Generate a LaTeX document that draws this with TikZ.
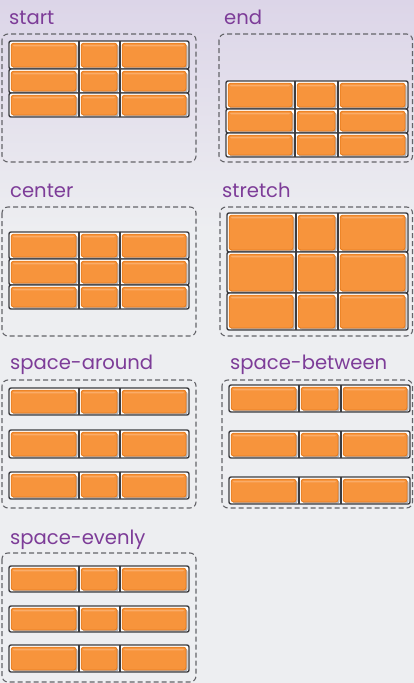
\documentclass[tikz,border=0pt]{standalone}
\usepackage{fontspec}
\setsansfont{Poppins}
\definecolor{bgtop}{RGB}{220,213,232}
\definecolor{bgbot}{RGB}{237,238,241}
\definecolor{ttl}{RGB}{125,60,152}
\definecolor{org}{RGB}{247,148,60}
\definecolor{orgd}{RGB}{232,125,30}
\definecolor{orgl}{RGB}{250,172,105}
\definecolor{gridc}{RGB}{60,60,64}
\definecolor{dashc}{RGB}{100,100,105}
\definecolor{shd}{RGB}{178,178,184}
\tikzset{
 container/.style={draw=dashc, line width=1.1pt, dash pattern=on 5pt off 3pt, rounded corners=6pt},
 title/.style={anchor=base west, inner sep=0pt, text=ttl, font=\sffamily\fontsize{19.6}{19.6}\selectfont},
 gridline/.style={draw=gridc, line width=1.4pt},
 item/.style={fill=org, draw=orgd, line width=0.9pt, rounded corners=2.5pt},
 itemshadow/.style={fill=shd, rounded corners=2.5pt},
 itemlight/.style={fill=orgl, rounded corners=1.2pt},
}
\newcommand\flexcell[4]{%
  \path[itemshadow] (#1+3.4,#3+3.4) rectangle (#2-1.4,#4-0.5);
  \path[item] (#1+2.2,#3+2.2) rectangle (#2-3,#4-2);
  \path[itemlight] (#1+4,#3+3.8) rectangle (#2-5,#3+5.4);
}
\newcommand\flexrow[6]{%
  \fill[white] (#1,#3) rectangle (#2,#4);
  \flexcell{#1}{#5}{#3}{#4}
  \flexcell{#5}{#6}{#3}{#4}
  \flexcell{#6}{#2}{#3}{#4}
  \draw[gridline] (#5,#3) -- (#5,#4) (#6,#3) -- (#6,#4);
  \draw[gridline, rounded corners=2pt] (#1,#3) rectangle (#2,#4);
}
\begin{document}
\begin{tikzpicture}[x=1pt,y=-1pt]
\useasboundingbox (0,0) rectangle (414,683);
\shade[top color=bgtop, bottom color=bgbot] (0,0) rectangle (414,230);
\fill[bgbot] (0,229.5) rectangle (414,683);

% start
\node[title] (tstart) at (9,24) {start};
\draw[container] (2,34) rectangle (196,162);
\flexrow{9}{189}{41}{69}{79}{120}
\flexrow{9}{189}{69}{93}{79}{120}
\flexrow{9}{189}{93}{117}{79}{120}

% end
\node[title] (tend) at (224,24) {end};
\draw[container] (219,34) rectangle (412.5,162);
\flexrow{226}{408}{81}{109}{295}{338}
\flexrow{226}{408}{109}{133}{295}{338}
\flexrow{226}{408}{133}{157}{295}{338}

% center
\node[title] (tcenter) at (10,197) {center};
\draw[container] (2,207) rectangle (196,336);
\flexrow{9}{189}{232}{259}{79}{120}
\flexrow{9}{189}{259}{285}{79}{120}
\flexrow{9}{189}{285}{309}{79}{120}

% stretch
\node[title] (tstretch) at (222,197) {stretch};
\draw[container] (220,207) rectangle (412.5,336);
\flexrow{227}{408}{213}{252}{296}{338}
\flexrow{227}{408}{252}{293}{296}{338}
\flexrow{227}{408}{293}{330}{296}{338}

% space-around
\node[title] (taround) at (10,369) {space-around};
\draw[container] (2,380) rectangle (196,508);
\flexrow{9}{189}{388}{415}{79}{120}
\flexrow{9}{189}{430}{458}{79}{120}
\flexrow{9}{189}{472}{499}{79}{120}

% space-between
\node[title] (tbetween) at (230,369) {space-between};
\draw[container] (222,380) rectangle (412.5,508);
\flexrow{229}{410}{385}{412}{299}{341}
\flexrow{229}{410}{431}{458}{299}{341}
\flexrow{229}{410}{477}{504}{299}{341}

% space-evenly
\node[title] (tevenly) at (10,544) {space-evenly};
\draw[container] (2,553) rectangle (196,682);
\flexrow{9}{189}{566}{592}{79}{120}
\flexrow{9}{189}{606}{632}{79}{120}
\flexrow{9}{189}{645}{672}{79}{120}
\end{tikzpicture}
\end{document}
